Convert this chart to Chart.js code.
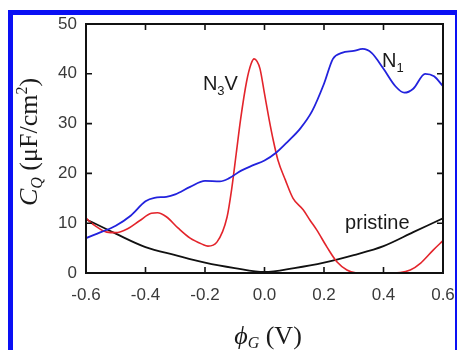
<!DOCTYPE html>
<html>
<head>
<meta charset="utf-8">
<script src="https://cdn.jsdelivr.net/npm/chart.js@4.4.1/dist/chart.umd.min.js"></script>
<style>
    html, body { margin: 0; padding: 0; background: #fff; overflow: hidden; }
    #frame {
        position: absolute; left: 8px; top: 10px;
        width: 452px; height: 400px; box-sizing: border-box;
        border: 5px solid #0a10f4;
    }
    #chart { position: absolute; left: 0; top: 0; z-index: 1; }
</style>
</head>
<body>
<div id="frame"></div>
<canvas id="chart" width="457" height="350"></canvas>
<script>
// Ejes
const xTicks = [-0.6, -0.4, -0.2, 0.0, 0.2, 0.4, 0.6];
const yTicks = [0, 10, 20, 30, 40, 50];

// N1 (azul)
const n1X = [-0.6, -0.55, -0.5, -0.45, -0.4, -0.37, -0.33, -0.3, -0.25, -0.2, -0.15, -0.12, -0.08, -0.04, 0.0,
             0.04, 0.08, 0.12, 0.16, 0.2, 0.23, 0.26, 0.3, 0.33, 0.36, 0.4, 0.44, 0.47, 0.5, 0.54, 0.57, 0.6];
const n1Y = [7.0, 8.2, 9.5, 11.5, 14.4, 15.1, 15.3, 15.8, 17.3, 18.5, 18.4, 19.0, 20.5, 21.6, 22.6,
             24.2, 26.5, 29.0, 32.5, 38.0, 43.0, 44.2, 44.6, 45.0, 44.2, 41.0, 37.5, 36.2, 37.0, 40.0, 39.5, 37.5];

// N3V (rojo)
const n3vX = [-0.6, -0.57, -0.53, -0.5, -0.46, -0.42, -0.38, -0.36, -0.33, -0.29, -0.25, -0.21, -0.19, -0.16,
              -0.126, -0.11, -0.095, -0.08, -0.06, -0.045, -0.035, -0.025, -0.015, 0.0, 0.015, 0.03, 0.045,
              0.07, 0.096, 0.13, 0.153, 0.176, 0.21, 0.244, 0.277, 0.31, 0.4, 0.456, 0.49, 0.525, 0.567, 0.6];
const n3vY = [11.0, 9.5, 8.2, 8.1, 8.9, 10.5, 12.0, 12.1, 11.3, 9.0, 7.0, 5.8, 5.4, 6.2,
              11.2, 17.0, 24.0, 31.0, 38.5, 42.0, 43.0, 42.5, 41.0, 36.0, 31.0, 26.5, 22.7,
              18.7, 15.0, 12.7, 10.6, 8.6, 5.2, 2.2, 0.6, 0.0, 0.0, 0.1, 0.6, 2.0, 4.6, 6.5];

// pristine (negro)
const pristineX = [-0.6, -0.5, -0.4, -0.3, -0.2, -0.1, 0.0, 0.1, 0.2, 0.3, 0.4, 0.5, 0.6];
const pristineY = [10.8, 7.9, 5.2, 3.6, 2.1, 1.0, 0.2, 1.0, 2.1, 3.6, 5.4, 8.2, 11.0];

// Etiquetas de curvas: [texto, subíndice, resto]
const labelParts = [['N', '3', 'V'], ['N', '1', ''], ['pristine', '', '']];
const labelX = [-0.207, 0.395, 0.271];
const labelY = [36.7, 41.4, 8.8];

const sansFont = '"Liberation Sans", Arial, sans-serif';
const serifFont = '"Liberation Serif", "Times New Roman", serif';

const toPoints = (xs, ys) => xs.map((x, i) => ({ x, y: ys[i] }));

const xMin = xTicks[0], xMax = xTicks[xTicks.length - 1];
const yMin = yTicks[0], yMax = yTicks[yTicks.length - 1];

// Dibuja trozos de texto [texto, tamaño, estilo, desplazamiento vertical, fuente]
const drawRuns = (ctx, runs, x, y, align) => {
    const widths = runs.map(r => {
        ctx.font = `${r[2]} ${r[1]}px ${r[4] || serifFont}`;
        return ctx.measureText(r[0]).width;
    });
    const total = widths.reduce((a, b) => a + b, 0);
    let cx = align === 'center' ? x - total / 2 : x;
    runs.forEach((r, i) => {
        ctx.font = `${r[2]} ${r[1]}px ${r[4] || serifFont}`;
        ctx.fillText(r[0], cx, y + r[3]);
        cx += widths[i];
    });
};

// Caja y marcas hacia dentro, a partir de las escalas
const drawBox = (ctx, x, y) => {
    const left = x.getPixelForValue(xMin);
    const right = x.getPixelForValue(xMax);
    const bottom = y.getPixelForValue(yMin);
    const top = y.getPixelForValue(yMax);
    ctx.save();
    ctx.globalCompositeOperation = 'source-over';
    ctx.globalAlpha = 1;
    ctx.setLineDash([]);
    ctx.strokeStyle = '#111111';
    ctx.lineWidth = 1.6;
    ctx.beginPath();
    xTicks.forEach(v => {
        const px = x.getPixelForValue(v);
        ctx.moveTo(px, bottom); ctx.lineTo(px, bottom - 6);
        ctx.moveTo(px, top); ctx.lineTo(px, top + 6);
    });
    yTicks.forEach(v => {
        const py = y.getPixelForValue(v);
        ctx.moveTo(left, py); ctx.lineTo(left + 6, py);
        ctx.moveTo(right, py); ctx.lineTo(right - 6, py);
    });
    ctx.stroke();
    ctx.lineWidth = 2;
    ctx.beginPath();
    ctx.moveTo(left, top);
    ctx.lineTo(right, top);
    ctx.lineTo(right, bottom);
    ctx.lineTo(left, bottom);
    ctx.closePath();
    ctx.stroke();
    ctx.restore();
};

const textPlugin = {
    id: 'plotText',
    afterDraw(chart) {
        const { ctx } = chart;
        const x = chart.scales.x;
        const y = chart.scales.y;

        drawBox(ctx, x, y);

        ctx.save();
        ctx.fillStyle = '#1a1a1a';
        ctx.textBaseline = 'alphabetic';

        // etiquetas de curvas
        labelParts.forEach((p, i) => {
            drawRuns(ctx, [
                [p[0], 20, 'normal', 0, sansFont],
                [p[1], 13, 'normal', 5, sansFont],
                [p[2], 20, 'normal', 0, sansFont]
            ], x.getPixelForValue(labelX[i]), y.getPixelForValue(labelY[i]), 'left');
        });

        // título eje x
        drawRuns(ctx, [
            ['\u03D5', 26, 'italic', 0],
            ['G', 16, 'italic', 4],
            [' (V)', 26, 'normal', 0]
        ], 268, 344, 'center');

        // título eje y
        ctx.translate(37, 142);
        ctx.rotate(-Math.PI / 2);
        drawRuns(ctx, [
            ['C', 26, 'italic', 0],
            ['Q', 16, 'italic', 5],
            [' (\u03BCF/cm', 26, 'normal', 0],
            ['2', 16, 'normal', -10],
            [')', 26, 'normal', 0]
        ], 0, 0, 'center');
        ctx.restore();
    }
};

const tickFont = { family: sansFont, size: 17 };

new Chart(document.getElementById('chart'), {
    type: 'line',
    data: {
        datasets: [
            { data: toPoints(n1X, n1Y), borderColor: '#2222dd', borderWidth: 1.8 },
            { data: toPoints(n3vX, n3vY), borderColor: '#e3242b', borderWidth: 1.6 },
            { data: toPoints(pristineX, pristineY), borderColor: '#111111', borderWidth: 1.8 }
        ]
    },
    options: {
        responsive: false,
        animation: false,
        elements: {
            point: { radius: 0 },
            line: { cubicInterpolationMode: 'monotone' }
        },
        layout: { padding: { left: 0, top: 24, right: 14, bottom: 0 } },
        plugins: { legend: { display: false }, tooltip: { enabled: false } },
        scales: {
            x: {
                type: 'linear', min: xMin, max: xMax,
                afterBuildTicks: s => { s.ticks = xTicks.map(v => ({ value: v })); },
                afterFit: s => { s.height = 77; s.paddingLeft = 0; s.paddingRight = 0; },
                ticks: {
                    font: tickFont, color: '#3a3a3a', padding: 12, maxRotation: 0,
                    callback: v => (Math.abs(v) < 1e-9 ? 0 : v).toFixed(1)
                },
                grid: { display: false, drawTicks: false },
                border: { display: false }
            },
            y: {
                min: yMin, max: yMax,
                afterBuildTicks: s => { s.ticks = yTicks.map(v => ({ value: v })); },
                afterFit: s => { s.width = 86; s.paddingTop = 0; s.paddingBottom = 0; },
                ticks: { font: tickFont, color: '#3a3a3a', padding: 9 },
                grid: { display: false, drawTicks: false },
                border: { display: false }
            }
        }
    },
    plugins: [textPlugin]
});
</script>
</body>
</html>
